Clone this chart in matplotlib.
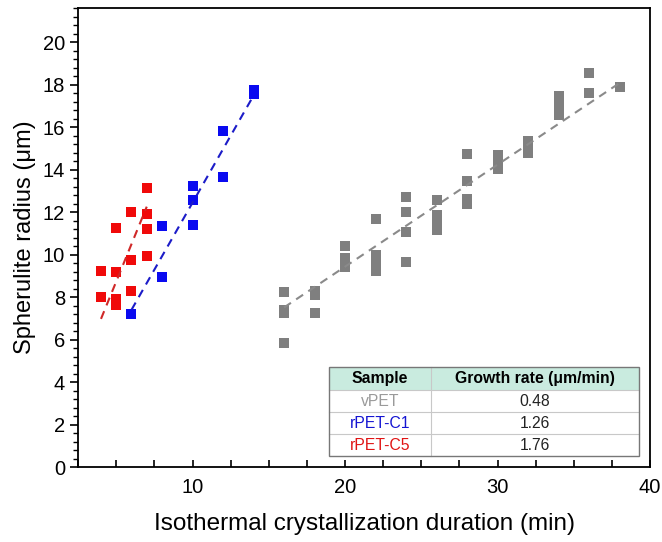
import numpy as np
import matplotlib
matplotlib.use("Agg")
import matplotlib.pyplot as plt
from matplotlib.patches import Rectangle
from matplotlib.ticker import MultipleLocator

plt.rcParams["font.family"] = ["Liberation Sans", "DejaVu Sans"]

# Spherulite radius vs. isothermal crystallization time
samples = ["vPET", "rPET-C1", "rPET-C5"]
growth_rate = [0.48, 1.26, 1.76]  # um/min, slope of each dashed fit

vpet_t = [16, 16, 16, 16, 18, 18, 18, 20, 20, 20, 22, 22, 22, 22,
          24, 24, 24, 24, 26, 26, 26, 26, 28, 28, 28, 28, 30, 30, 30,
          32, 32, 32, 34, 34, 34, 34, 36, 36, 38]
vpet_r = [8.23, 7.40, 7.25, 5.84, 8.31, 8.08, 7.25, 10.42, 9.83, 9.40,
          11.67, 9.99, 9.64, 9.25, 12.69, 11.99, 11.05, 9.64,
          12.58, 11.85, 11.50, 11.15, 14.73, 13.47, 12.60, 12.38,
          14.68, 14.34, 14.02, 15.35, 15.05, 14.80,
          17.45, 17.10, 16.80, 16.55, 18.56, 17.62, 17.88]

c1_t = [6, 8, 8, 10, 10, 10, 12, 12, 14, 14]
c1_r = [7.22, 11.33, 8.94, 13.24, 12.57, 11.41, 15.82, 13.66, 17.75, 17.55]

c5_t = [4, 4, 5, 5, 5, 5, 6, 6, 6, 7, 7, 7, 7]
c5_r = [9.22, 8.00, 11.25, 9.17, 7.90, 7.65, 12.03, 9.75, 8.28,
        13.16, 11.91, 11.20, 9.92]

point_colors = ["#7f7f7f", "#0a0af0", "#f00a0a"]
line_colors = ["#8a8a8a", "#1c1cc8", "#d02828"]
label_colors = ["#9a9a9a", "#1414d2", "#e01414"]

fig = plt.figure(figsize=(6.62, 5.42), dpi=100)
ax = fig.add_axes([0.118, 0.138, 0.864, 0.847])

series = [(vpet_t, vpet_r), (c1_t, c1_r), (c5_t, c5_r)]
for (t, r), k, pc, lc in zip(series, growth_rate, point_colors, line_colors):
    t = np.asarray(t, float)
    r = np.asarray(r, float)
    ax.scatter(t, r, marker="s", s=62, color=pc, linewidths=0, zorder=3)
    # fixed slope, intercept from the centroid of the points
    b = r.mean() - k * t.mean()
    tt = np.array([t.min(), t.max()])
    ax.plot(tt, k * tt + b, ls=(0, (4, 3)), color=lc, lw=1.5, zorder=4)

ax.set_xlim(2.5, 40)
ax.set_ylim(0, 21.6)
ax.xaxis.set_major_locator(MultipleLocator(10))
ax.xaxis.set_minor_locator(MultipleLocator(2.5))
ax.yaxis.set_major_locator(MultipleLocator(2))
ax.yaxis.set_minor_locator(MultipleLocator(0.4))
ax.tick_params(axis="x", which="both", direction="in", length=5, width=1.2,
               labelsize=14.5, pad=8)
ax.tick_params(axis="y", which="major", direction="out", length=6, width=1.2,
               labelsize=14.5)
ax.tick_params(axis="y", which="minor", direction="out", length=3.5, width=1.0)
for sp in ax.spines.values():
    sp.set_linewidth(1.3)

ax.set_xlabel("Isothermal crystallization duration (min)", fontsize=17.5, labelpad=11)
ax.set_ylabel("Spherulite radius (\u03bcm)", fontsize=17, labelpad=5)

# summary table of growth rates, drawn in axes coordinates
x0, x1, xs = 0.439, 0.981, 0.617
row_edges = [0.218, 0.168, 0.120, 0.072, 0.024]
tr = ax.transAxes
ax.add_patch(Rectangle((x0, row_edges[1]), x1 - x0, row_edges[0] - row_edges[1],
                       transform=tr, facecolor="#c9ebdf", edgecolor="none", zorder=5))
ax.add_patch(Rectangle((x0, row_edges[-1]), x1 - x0, row_edges[1] - row_edges[-1],
                       transform=tr, facecolor="white", edgecolor="none", zorder=5))
for y in row_edges[1:-1]:
    ax.plot([x0, x1], [y, y], transform=tr, color="#c8c8c8", lw=0.8, zorder=6)
ax.plot([xs, xs], [row_edges[-1], row_edges[0]], transform=tr,
        color="#c8c8c8", lw=0.8, zorder=6)
ax.add_patch(Rectangle((x0, row_edges[-1]), x1 - x0, row_edges[0] - row_edges[-1],
                       transform=tr, facecolor="none", edgecolor="#777777",
                       lw=1.0, zorder=7))

cx_a = (x0 + xs) / 2
cx_b = (xs + x1) / 2
yh = (row_edges[0] + row_edges[1]) / 2
ax.text(cx_a, yh, "Sample", transform=tr, ha="center", va="center",
        fontsize=11.3, fontweight="bold", zorder=8)
ax.text(cx_b, yh, "Growth rate (\u03bcm/min)", transform=tr, ha="center",
        va="center", fontsize=11.3, fontweight="bold", zorder=8)
for i, (name, k, c) in enumerate(zip(samples, growth_rate, label_colors)):
    yc = (row_edges[i + 1] + row_edges[i + 2]) / 2
    ax.text(cx_a, yc, name, transform=tr, ha="center", va="center",
            fontsize=11.3, color=c, zorder=8)
    ax.text(cx_b, yc, f"{k:.2f}", transform=tr, ha="center", va="center",
            fontsize=11.3, color="#222222", zorder=8)

fig.savefig("out.png", dpi=100)
